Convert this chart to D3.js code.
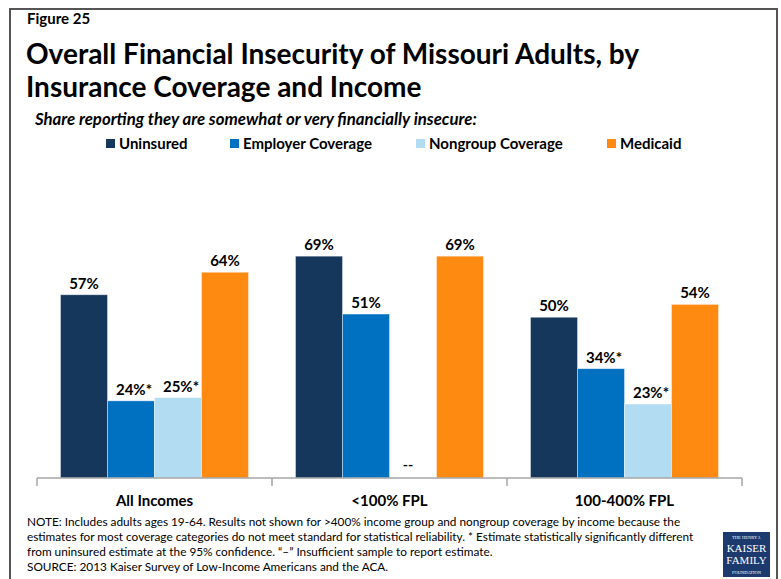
<!DOCTYPE html>
<html>
<head>
<meta charset="utf-8">
<script src="https://cdn.jsdelivr.net/npm/d3@7"></script>
<style>
  html, body { margin: 0; padding: 0; background: #fff; }
  svg { display: block; font-family: Lato, "Open Sans", sans-serif; }
</style>
</head>
<body>
<svg id="chart" width="781" height="579"></svg>
<script>
// Income groups and coverage types
const categories = ["All Incomes", "<100% FPL", "100-400% FPL"];
const seriesNames = ["Uninsured", "Employer Coverage", "Nongroup Coverage", "Medicaid"];
const seriesColors = ["#15375c", "#0070c0", "#b1dcf2", "#ff8a12"];

// Share (%) reporting financial insecurity; null = insufficient sample
const uninsured = [57, 69, 50];
const employer = [24, 51, 34];
const nongroup = [25, null, 23];
const medicaid = [64, 69, 54];

// Significance markers (* = different from uninsured)
const employerSig = [true, false, true];
const nongroupSig = [true, false, true];

const noteLines = [
  "NOTE: Includes adults ages 19-64. Results not shown for >400% income group and nongroup coverage by income because the",
  "estimates for most coverage categories do not meet standard for statistical reliability. * Estimate statistically significantly different",
  "from uninsured estimate at the 95% confidence. \u201c\u2013\u201d Insufficient sample to report estimate.",
  "SOURCE: 2013 Kaiser Survey of Low-Income Americans and the ACA."
];

const seriesValues = [uninsured, employer, nongroup, medicaid];
const seriesSig = [[false, false, false], employerSig, nongroupSig, [false, false, false]];

const svg = d3.select("#chart");

// Frame around the figure
svg.append("path")
  .attr("d", "M10,580 V9 H777 V580")
  .attr("fill", "none")
  .attr("stroke", "#555")
  .attr("stroke-width", 2);

// Header texts
svg.append("text").attr("x", 27).attr("y", 24)
  .attr("font-size", 15).attr("font-weight", 700).attr("fill", "#000")
  .text("Figure 25");
svg.append("text").attr("x", 26).attr("y", 64)
  .attr("font-size", 28).attr("font-weight", 700).attr("fill", "#000")
  .text("Overall Financial Insecurity of Missouri Adults, by");
svg.append("text").attr("x", 26).attr("y", 97)
  .attr("font-size", 28).attr("font-weight", 700).attr("fill", "#000")
  .text("Insurance Coverage and Income");
svg.append("text").attr("x", 35).attr("y", 125)
  .attr("font-size", 16.8).attr("font-weight", 700).attr("font-style", "italic").attr("fill", "#000")
  .text("Share reporting they are somewhat or very financially insecure:");

// Legend
const legendX = [106, 230, 416, 607];
const legend = svg.append("g");
seriesNames.forEach((name, i) => {
  legend.append("rect")
    .attr("x", legendX[i]).attr("y", 139)
    .attr("width", 9).attr("height", 9)
    .attr("fill", seriesColors[i]);
  legend.append("text")
    .attr("x", legendX[i] + 13).attr("y", 148.5)
    .attr("font-size", 15).attr("font-weight", 700).attr("fill", "#000")
    .text(name);
});

// Scales
const x0 = d3.scaleBand().domain(categories).range([37, 742]).paddingInner(0).paddingOuter(0);
const x1 = d3.scaleBand().domain(seriesNames).range([0, x0.bandwidth()]).paddingOuter(0.5).paddingInner(0);
const y = d3.scaleLinear().domain([0, 100]).range([478, 156.5]);

// Bars
const groups = svg.append("g").selectAll("g")
  .data(categories)
  .join("g")
  .attr("transform", d => `translate(${x0(d)},0)`);

groups.each(function(cat, ci) {
  const g = d3.select(this);
  seriesNames.forEach((s, si) => {
    const v = seriesValues[si][ci];
    const cx = x1(s) + x1.bandwidth() / 2;
    if (v === null) {
      g.append("text")
        .attr("x", cx - 5).attr("y", y(0) - 8)
        .attr("text-anchor", "middle")
        .attr("font-size", 14).attr("font-weight", 700).attr("fill", "#000")
        .text("--");
      return;
    }
    g.append("rect")
      .attr("x", x1(s)).attr("y", y(v))
      .attr("width", x1.bandwidth()).attr("height", y(0) - y(v))
      .attr("fill", seriesColors[si])
      .attr("stroke", "#fff").attr("stroke-opacity", 0.5).attr("stroke-width", 0.8);
    g.append("text")
      .attr("x", cx + (seriesSig[si][ci] ? 3 : 0)).attr("y", y(v) - 6)
      .attr("text-anchor", "middle")
      .attr("font-size", 15).attr("font-weight", 700).attr("fill", "#000")
      .text(v + "%" + (seriesSig[si][ci] ? "*" : ""));
  });
});

// Category axis
const xAxis = svg.append("g").attr("transform", `translate(0,${y(0)})`);
xAxis.append("line")
  .attr("x1", 37).attr("x2", 742).attr("y1", 0).attr("y2", 0)
  .attr("stroke", "#a6a6a6").attr("stroke-width", 1.5);
const tickPos = categories.map(c => x0(c)).concat([x0(categories[categories.length - 1]) + x0.bandwidth()]);
xAxis.selectAll("line.tick").data(tickPos).join("line")
  .attr("class", "tick")
  .attr("x1", d => d).attr("x2", d => d)
  .attr("y1", 0).attr("y2", 8)
  .attr("stroke", "#a6a6a6").attr("stroke-width", 1.5);
xAxis.selectAll("text").data(categories).join("text")
  .attr("x", d => x0(d) + x0.bandwidth() / 2)
  .attr("y", 28)
  .attr("text-anchor", "middle")
  .attr("font-size", 15).attr("font-weight", 700).attr("fill", "#000")
  .text(d => d);

// Notes and source
svg.append("g").selectAll("text").data(noteLines).join("text")
  .attr("x", 27).attr("y", (d, i) => 526 + i * 15)
  .attr("font-size", 11.8).attr("fill", "#000")
  .text(d => d);

// Foundation logo
const logo = svg.append("g").attr("transform", "translate(723,532)");
logo.append("rect").attr("width", 47).attr("height", 45).attr("fill", "#1d3a6e");
const logoLines = [["THE HENRY J.", 4.5, 7], ["KAISER", 11, 20], ["FAMILY", 11, 32], ["FOUNDATION", 4.5, 42]];
logoLines.forEach(([t, fs, yy]) => {
  logo.append("text")
    .attr("x", 23.5).attr("y", yy)
    .attr("text-anchor", "middle")
    .attr("font-family", "'Liberation Serif', serif")
    .attr("font-size", fs).attr("fill", "#fff")
    .text(t);
});
</script>
</body>
</html>
